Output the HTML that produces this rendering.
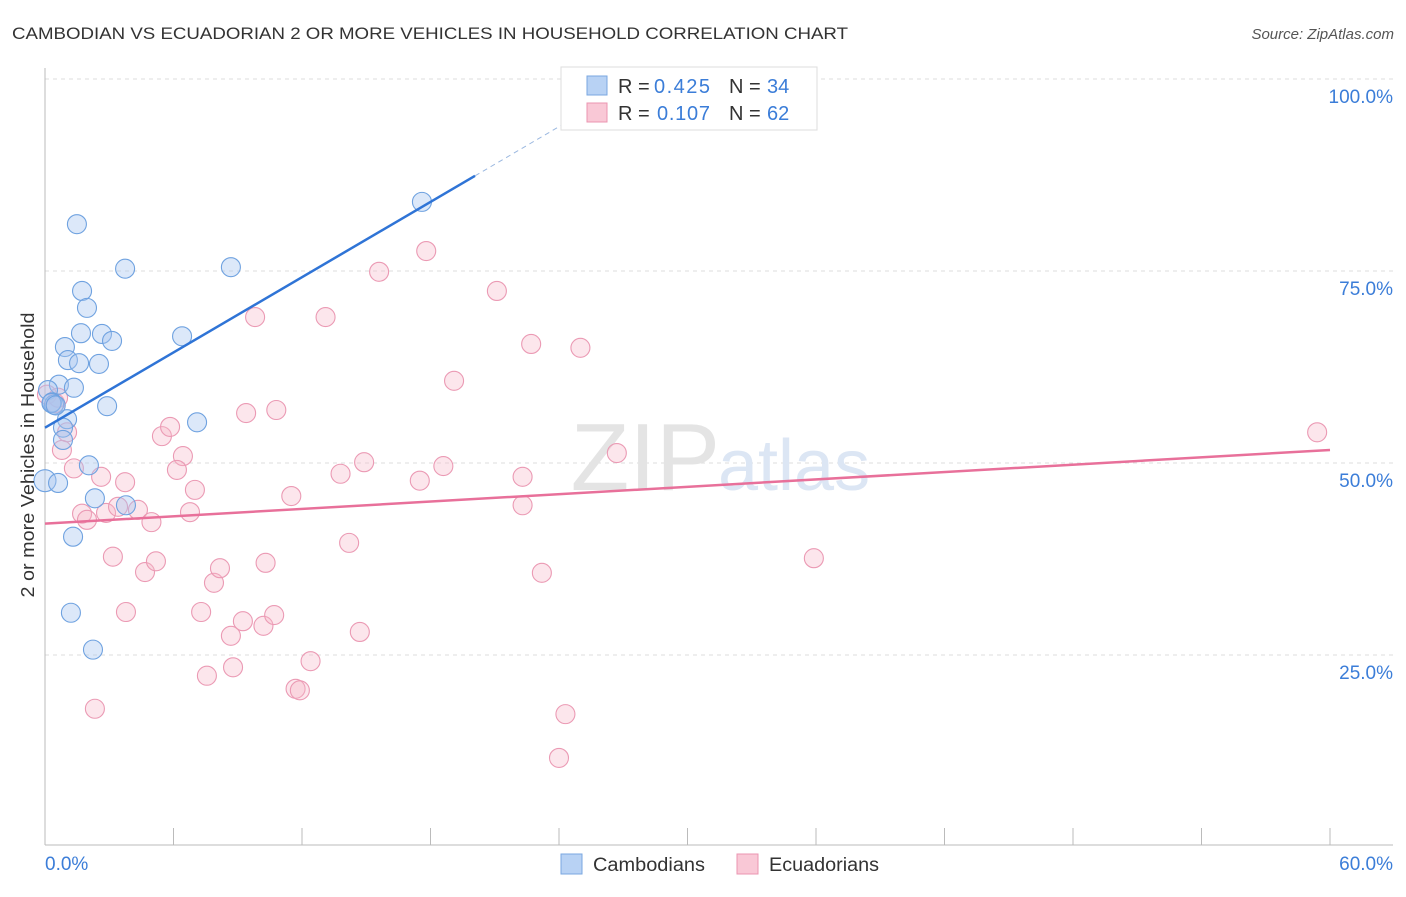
<!DOCTYPE html>
<html><head><meta charset="utf-8">
<style>
body{margin:0;background:#fff;font-family:"Liberation Sans",sans-serif;}
svg text{font-family:"Liberation Sans",sans-serif;}
</style></head>
<body>
<svg id="chart" width="1406" height="892" xmlns="http://www.w3.org/2000/svg">
<text x="12" y="39" font-size="17" fill="#333" textLength="836" lengthAdjust="spacingAndGlyphs">CAMBODIAN VS ECUADORIAN 2 OR MORE VEHICLES IN HOUSEHOLD CORRELATION CHART</text>
<text x="1394" y="39" font-size="15" fill="#555" font-style="italic" text-anchor="end">Source: ZipAtlas.com</text>
<g id="grid"></g>
<text x="720" y="490" font-size="96" fill="#e4e4e4" text-anchor="end" font-family="Liberation Serif">ZIP</text>
<text x="718" y="490" font-size="72" fill="#dce6f4">atlas</text>
<line x1="45" y1="68" x2="45" y2="845" stroke="#bbb"/>
<line x1="45" y1="845" x2="1393" y2="845" stroke="#bbb"/>
<g id="ticks"></g>
<g id="pts"></g>
<g id="lines"></g>
<text x="34" y="455" font-size="18" fill="#333" transform="rotate(-90 34 455)" text-anchor="middle" textLength="285" lengthAdjust="spacingAndGlyphs">2 or more Vehicles in Household</text>
<text x="45" y="870" font-size="19" fill="#3b7dd8">0.0%</text>
<text x="1393" y="870" font-size="19" fill="#3b7dd8" text-anchor="end">60.0%</text>
<g>
<rect x="561" y="67" width="256" height="63" fill="#fff" stroke="#ddd"/>
<rect x="587" y="76" width="20" height="19" fill="#b8d2f4" stroke="#7aa7e0"/>
<rect x="587" y="103" width="20" height="19" fill="#f9c8d6" stroke="#eb95b0"/>
<text y="93" font-size="20"><tspan x="618" fill="#333">R = </tspan><tspan x="654" fill="#3b7dd8" textLength="56">0.425</tspan><tspan x="729" fill="#333">N = </tspan><tspan x="767" fill="#3b7dd8">34</tspan></text>
<text y="120" font-size="20"><tspan x="618" fill="#333">R = </tspan><tspan x="657" fill="#3b7dd8" textLength="53">0.107</tspan><tspan x="729" fill="#333">N = </tspan><tspan x="767" fill="#3b7dd8">62</tspan></text>
</g>
<g>
<rect x="561" y="854" width="21" height="20" fill="#b8d2f4" stroke="#7aa7e0"/>
<text x="593" y="871" font-size="19" fill="#333" textLength="112" lengthAdjust="spacingAndGlyphs">Cambodians</text>
<rect x="737" y="854" width="21" height="20" fill="#f9c8d6" stroke="#eb95b0"/>
<text x="769" y="871" font-size="19" fill="#333" textLength="110" lengthAdjust="spacingAndGlyphs">Ecuadorians</text>
</g>
</svg>
<script>
const yTicks=[25,50,75,100];
const yTickLabels=["25.0%","50.0%","75.0%","100.0%"];
const blueX=[1.49,3.74,8.68,1.73,1.96,1.68,2.66,3.13,6.40,0.93,1.07,1.59,2.52,0.65,1.35,0.14,0.33,2.90,0.42,1.03,7.10,0.84,0.84,2.05,0,0.61,2.33,3.78,1.31,1.21,2.24,17.6,0.3,0.5];
const blueY=[81.1,75.3,75.5,72.4,70.2,66.9,66.8,65.9,66.5,65.1,63.4,63.0,62.9,60.2,59.8,59.5,57.9,57.4,57.6,55.7,55.3,54.6,53.0,49.7,47.7,47.4,45.4,44.5,40.4,30.5,25.7,84.0,57.8,57.5];
const pinkX=[0.09,0.47,0.61,1.03,0.79,1.35,2.62,3.74,1.73,1.96,2.85,3.41,4.34,4.97,3.17,4.67,5.18,3.78,2.33,5.46,5.84,6.44,6.16,7.00,6.77,7.89,8.17,7.29,8.68,9.24,10.2,10.7,10.3,8.78,7.56,9.81,9.39,10.8,11.5,11.7,11.9,12.4,13.1,13.8,14.2,14.9,14.7,15.6,17.8,17.5,18.6,19.1,21.1,22.7,22.3,22.3,23.2,24.3,24.0,25.0,26.7,35.9,59.4];
const pinkY=[58.9,57.8,58.5,54.0,51.7,49.3,48.2,47.5,43.4,42.6,43.5,44.3,43.9,42.3,37.8,35.8,37.2,30.6,18.0,53.5,54.7,50.9,49.1,46.5,43.6,34.4,36.3,30.6,27.5,29.4,28.8,30.2,37.0,23.4,22.3,69.0,56.5,56.9,45.7,20.6,20.4,24.2,69.0,48.6,39.6,50.1,28.0,74.9,77.6,47.7,49.6,60.7,72.4,65.5,48.2,44.5,35.7,17.3,11.6,65.0,51.3,37.6,54.0];
const blueTrend=[54.6,1.633];
const pinkTrend=[42.1,0.16];
const NS="http://www.w3.org/2000/svg";
const X=v=>45+v/60*1285;
const Y=v=>847-v/100*768;
function mk(t,a,p){const e=document.createElementNS(NS,t);for(const k in a)e.setAttribute(k,a[k]);p.appendChild(e);return e;}
const grid=document.getElementById('grid');
yTicks.forEach((t,i)=>{
 const l=mk('line',{x1:45,x2:1393,y1:Y(t),y2:Y(t),stroke:'#ddd','stroke-dasharray':'4,4'},grid);
 
 
 const tx=mk('text',{x:1393,y:Y(t)+24,'font-size':19,fill:'#3b7dd8','text-anchor':'end'},grid);
 tx.textContent=yTickLabels[i];
 
 
});
const tk=document.getElementById('ticks');
for(let i=0;i<=10;i++){
 const l=mk('line',{x1:X(i*6),x2:X(i*6),y1:828,y2:845,stroke:'#bbb'},tk);
 
 
}
const pts=document.getElementById('pts');
pinkX.forEach((x,i)=>{
 const c=mk('circle',{cx:X(x),cy:Y(pinkY[i]),r:9.5,fill:'rgba(246,182,201,0.35)',stroke:'#eb9ab4','stroke-width':1.1},pts);
 
 
});
blueX.forEach((x,i)=>{
 const c=mk('circle',{cx:X(x),cy:Y(blueY[i]),r:i==24?11:9.5,fill:'rgba(168,198,240,0.4)',stroke:'#6fa2e0','stroke-width':1.1},pts);
 
 
});
const ln=document.getElementById('lines');
const b1=mk('line',{x1:X(0),y1:Y(blueTrend[0]),x2:X(20.08),y2:Y(blueTrend[0]+blueTrend[1]*20.08),stroke:'#2f74d6','stroke-width':2.5},ln);


const b2=mk('line',{x1:X(20.08),y1:Y(blueTrend[0]+blueTrend[1]*20.08),x2:X(25.4),y2:Y(blueTrend[0]+blueTrend[1]*25.4),stroke:'#9bb8e0','stroke-width':1,'stroke-dasharray':'5,4'},ln);


const p1=mk('line',{x1:X(0),y1:Y(pinkTrend[0]),x2:X(60),y2:Y(pinkTrend[0]+pinkTrend[1]*60),stroke:'#e8709a','stroke-width':2.5},ln);


</script>
</body></html>
